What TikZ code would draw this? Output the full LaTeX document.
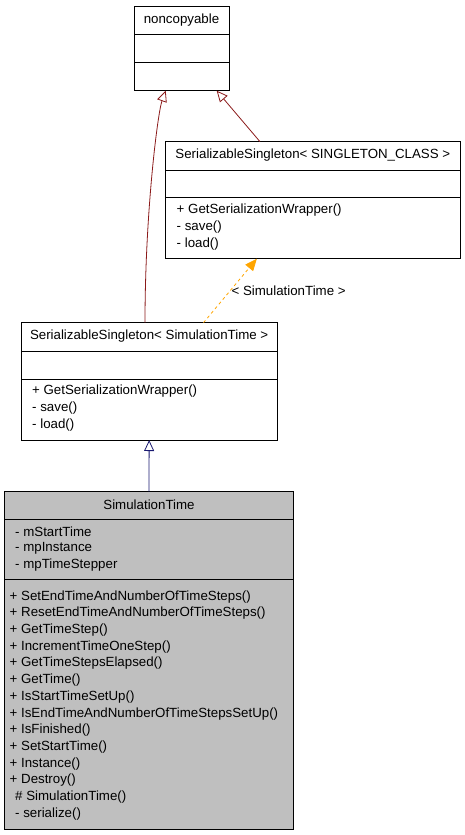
\documentclass[tikz,border=0pt]{standalone}
\usepackage{fontspec}
\setmainfont{Liberation Sans}
\usetikzlibrary{arrows.meta}
\definecolor{inhred}{HTML}{8B1A1A}
\definecolor{inhblue}{HTML}{191970}
\definecolor{tmplorange}{HTML}{FFA500}
\definecolor{classgrey}{HTML}{BFBFBF}
\tikzset{
  classbox/.style={draw=black, line width=0.8pt, inner sep=0pt, outer sep=0pt},
  memberline/.style={inner sep=0pt, anchor=west, font=\fontsize{13.3}{15}\selectfont},
  titleline/.style={inner sep=0pt, font=\fontsize{13.3}{15}\selectfont},
  inherit/.style={line width=0.8pt, -{Triangle[open, length=11pt, width=10pt]}},
  instance/.style={line width=0.8pt, tmplorange, dashed, -{Triangle[length=12pt, width=10pt]}}
}
\begin{document}
\begin{tikzpicture}[x=1pt, y=-1pt]
            \useasboundingbox (0,0) rectangle (464,835);%
            
            % Drawing class noncopyable
            \node [classbox, minimum width=95pt, minimum height=84.7pt] (nc) at (181.5,48.35) {};%
            \node [titleline] (nctitle) at (181.5,20) {noncopyable};%
            \draw [line width=0.8pt] (nc.west |- 0,34.7) -- (nc.east |- 0,34.7);%
            \draw [line width=0.8pt] (nc.west |- 0,62.7) -- (nc.east |- 0,62.7);%
            
            % Drawing class SerializableSingleton< SINGLETON_CLASS >
            \node [classbox, minimum width=295.7pt, minimum height=117pt] (sct) at (312.85,200.2) {};%
            \node [titleline] (scttitle) at (312.85,155.5) {SerializableSingleton< SINGLETON\_CLASS >};%
            \draw [line width=0.8pt] (sct.west |- 0,170) -- (sct.east |- 0,170);%
            \draw [line width=0.8pt] (sct.west |- 0,197.7) -- (sct.east |- 0,197.7);%
            \node [memberline] (sctop1) at (176.5,210.5) {+ GetSerializationWrapper()};%
            \node [memberline] (sctop2) at (176.5,227.5) {- save()};%
            \node [memberline] (sctop3) at (176.5,244.5) {- load()};%
            
            % Drawing class SerializableSingleton< SimulationTime >
            \node [classbox, minimum width=256.3pt, minimum height=117.3pt] (sst) at (149.15,381.35) {};%
            \node [titleline] (ssttitle) at (149.15,336) {SerializableSingleton< SimulationTime >};%
            \draw [line width=0.8pt] (sst.west |- 0,351) -- (sst.east |- 0,351);%
            \draw [line width=0.8pt] (sst.west |- 0,379.3) -- (sst.east |- 0,379.3);%
            \node [memberline] (sstop1) at (32,391.5) {+ GetSerializationWrapper()};%
            \node [memberline] (sstop2) at (32,408.5) {- save()};%
            \node [memberline] (sstop3) at (32,425.5) {- load()};%
            
            % Drawing class SimulationTime
            \node [classbox, fill=classgrey, minimum width=288.6pt, minimum height=337.6pt] (sim) at (149,660.5) {};%
            \node [titleline] (simtitle) at (149,505) {SimulationTime};%
            \draw [line width=0.8pt] (sim.west |- 0,519) -- (sim.east |- 0,519);%
            \draw [line width=0.8pt] (sim.west |- 0,579.3) -- (sim.east |- 0,579.3);%
            \node [memberline] (simattr1) at (15,531.5) {- mStartTime};%
            \node [memberline] (simattr2) at (15,548.2) {- mpInstance};%
            \node [memberline] (simattr3) at (15,564.9) {- mpTimeStepper};%
            \foreach \op [count=\i from 0] in {SetEndTimeAndNumberOfTimeSteps(), ResetEndTimeAndNumberOfTimeSteps(),
                GetTimeStep(), IncrementTimeOneStep(), GetTimeStepsElapsed(), GetTime(), IsStartTimeSetUp(),
                IsEndTimeAndNumberOfTimeStepsSetUp(), IsFinished(), SetStartTime(), Instance(), Destroy()}
              \node [memberline] (simop\i) at (9.5,596.7+16.7*\i) {+ \op};%
            \node [memberline] (simop12) at (15,796.9) {\# SimulationTime()};%
            \node [memberline] (simop13) at (15,813.6) {- serialize()};%
            
            % Drawing inheritance SerializableSingleton< SimulationTime > -> noncopyable
            \draw [inherit, inhred] ([xshift=-4.15pt]sst.north) .. controls +(0,-110) and +(-8,22) .. ([xshift=-15.8pt]nc.south);%
            
            % Drawing inheritance SerializableSingleton< SINGLETON_CLASS > -> noncopyable
            \draw [inherit, inhred] ([xshift=-52.85pt]sct.north) -- ([xshift=35.2pt]nc.south);%
            
            % Drawing template instance SerializableSingleton< SimulationTime >
            \draw [instance] ([xshift=54.35pt]sst.north) -- ([xshift=-56pt]sct.south)
              node [pos=0.5, titleline, text=black, anchor=west, xshift=1pt] (tmpllabel) {< SimulationTime >};%
            
            % Drawing inheritance SimulationTime -> SerializableSingleton< SimulationTime >
            \draw [inherit, inhblue] (sim.north) -- (sst.south);%
\end{tikzpicture}
\end{document}
